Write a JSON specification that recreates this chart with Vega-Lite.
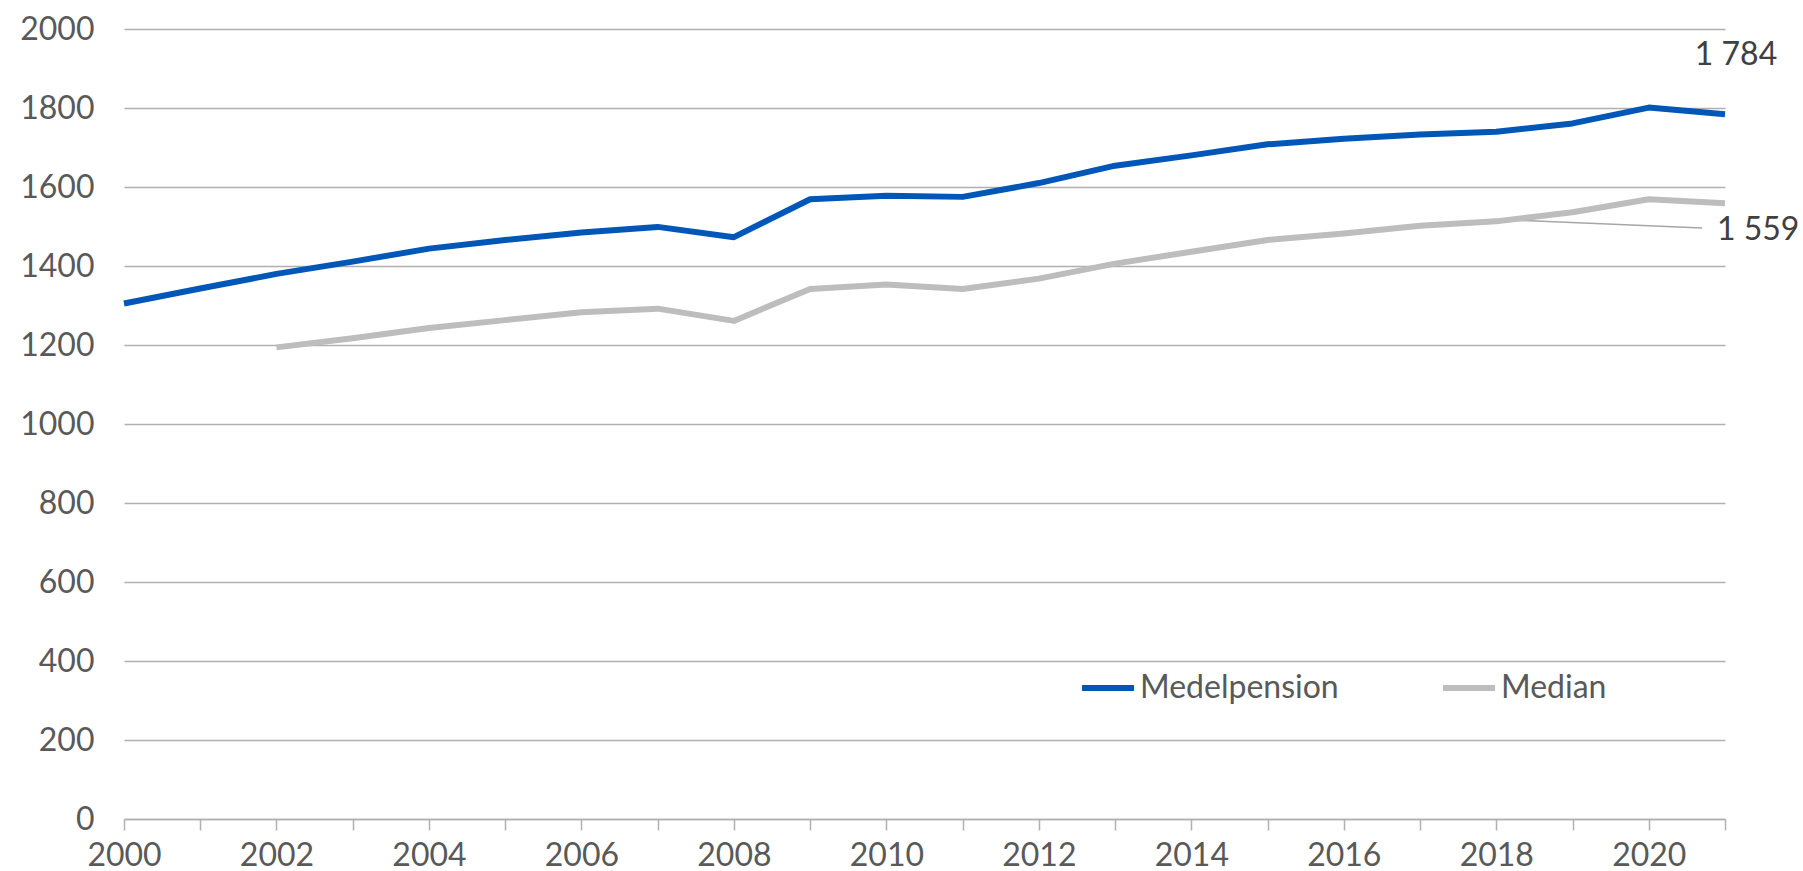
{
  "$schema": "https://vega.github.io/schema/vega-lite/v6.json",
  "width": 1601,
  "height": 790,
  "autosize": {"type": "none"},
  "padding": {"left": 124, "top": 29, "right": 78, "bottom": 52},
  "background": "white",
  "config": {
    "view": {"stroke": null},
    "font": "Lato",
    "axis": {"labelFont": "Lato", "labelFontSize": 32, "labelColor": "#595959", "titleFont": "Lato"},
    "legend": {"labelFont": "Lato"}
  },
  "datasets": {
    "series": [
      {"year": 2000, "series": "Medelpension", "value": 1305},
      {"year": 2001, "series": "Medelpension", "value": 1343},
      {"year": 2002, "series": "Medelpension", "value": 1380},
      {"year": 2003, "series": "Medelpension", "value": 1411},
      {"year": 2004, "series": "Medelpension", "value": 1444},
      {"year": 2005, "series": "Medelpension", "value": 1466},
      {"year": 2006, "series": "Medelpension", "value": 1485},
      {"year": 2007, "series": "Medelpension", "value": 1499},
      {"year": 2008, "series": "Medelpension", "value": 1473},
      {"year": 2009, "series": "Medelpension", "value": 1569},
      {"year": 2010, "series": "Medelpension", "value": 1578},
      {"year": 2011, "series": "Medelpension", "value": 1575},
      {"year": 2012, "series": "Medelpension", "value": 1610},
      {"year": 2013, "series": "Medelpension", "value": 1654},
      {"year": 2014, "series": "Medelpension", "value": 1680},
      {"year": 2015, "series": "Medelpension", "value": 1708},
      {"year": 2016, "series": "Medelpension", "value": 1722},
      {"year": 2017, "series": "Medelpension", "value": 1733},
      {"year": 2018, "series": "Medelpension", "value": 1740},
      {"year": 2019, "series": "Medelpension", "value": 1761},
      {"year": 2020, "series": "Medelpension", "value": 1801},
      {"year": 2021, "series": "Medelpension", "value": 1784},
      {"year": 2002, "series": "Median", "value": 1194},
      {"year": 2003, "series": "Median", "value": 1217},
      {"year": 2004, "series": "Median", "value": 1243},
      {"year": 2005, "series": "Median", "value": 1263},
      {"year": 2006, "series": "Median", "value": 1283},
      {"year": 2007, "series": "Median", "value": 1292},
      {"year": 2008, "series": "Median", "value": 1261},
      {"year": 2009, "series": "Median", "value": 1342},
      {"year": 2010, "series": "Median", "value": 1353},
      {"year": 2011, "series": "Median", "value": 1342},
      {"year": 2012, "series": "Median", "value": 1368},
      {"year": 2013, "series": "Median", "value": 1406},
      {"year": 2014, "series": "Median", "value": 1436},
      {"year": 2015, "series": "Median", "value": 1466},
      {"year": 2016, "series": "Median", "value": 1482},
      {"year": 2017, "series": "Median", "value": 1502},
      {"year": 2018, "series": "Median", "value": 1513},
      {"year": 2019, "series": "Median", "value": 1536},
      {"year": 2020, "series": "Median", "value": 1569},
      {"year": 2021, "series": "Median", "value": 1559}
    ],
    "labels": [
      {"year": 2021, "value": 1784, "label": "1 784", "series": "Medelpension"},
      {"year": 2021, "value": 1559, "label": "1 559", "series": "Median"}
    ],
    "leader": [
      {"year": 2018, "value": 1518},
      {"year": 2020.7, "value": 1496}
    ]
  },
  "layer": [
    {
      "data": {"name": "leader"},
      "mark": {"type": "line", "color": "#a6a6a6", "strokeWidth": 1.5},
      "encoding": {
        "x": {"field": "year", "type": "quantitative", "scale": {"domain": [2000, 2021], "nice": false, "zero": false}},
        "y": {"field": "value", "type": "quantitative", "scale": {"domain": [0, 2000], "nice": false}}
      }
    },
    {
      "data": {"name": "series"},
      "mark": {"type": "line", "strokeWidth": 6, "strokeJoin": "round", "strokeCap": "butt"},
      "encoding": {
        "x": {
          "field": "year", "type": "quantitative",
          "scale": {"domain": [2000, 2021], "nice": false, "zero": false},
          "axis": {
            "title": null,
            "values": [2000,2001,2002,2003,2004,2005,2006,2007,2008,2009,2010,2011,2012,2013,2014,2015,2016,2017,2018,2019,2020,2021],
            "labelExpr": "datum.value % 2 == 0 ? format(datum.value, 'd') : ''",
            "grid": false,
            "domain": true, "domainColor": "#b0b0b0", "domainWidth": 1.5,
            "ticks": true, "tickColor": "#b0b0b0", "tickSize": 11, "tickWidth": 1.5,
            "labelPadding": 10, "labelFlush": false, "labelOverlap": false
          }
        },
        "y": {
          "field": "value", "type": "quantitative",
          "scale": {"domain": [0, 2000], "nice": false},
          "axis": {
            "title": null,
            "values": [0,200,400,600,800,1000,1200,1400,1600,1800,2000],
            "format": "d",
            "grid": true, "gridColor": "#b0b0b0", "gridWidth": 1.5,
            "domain": false, "ticks": false,
            "labelPadding": 30
          }
        },
        "color": {
          "field": "series", "type": "nominal",
          "scale": {"domain": ["Medelpension", "Median"], "range": ["#0057B8", "#BDBDBD"]},
          "legend": {
            "title": null,
            "orient": "none",
            "legendX": 955,
            "legendY": 630,
            "direction": "horizontal",
            "symbolType": "stroke",
            "symbolSize": 2700,
            "symbolStrokeWidth": 6,
            "labelFontSize": 32,
            "labelColor": "#595959",
            "labelOffset": 3,
            "labelLimit": 400,
            "columnPadding": 92
          }
        }
      }
    },
    {
      "data": {"name": "labels"},
      "transform": [{"filter": "datum.series == 'Medelpension'"}],
      "mark": {"type": "text", "fontSize": 32, "color": "#404040", "align": "center", "baseline": "middle", "dx": 11, "dy": -59},
      "encoding": {
        "x": {"field": "year", "type": "quantitative"},
        "y": {"field": "value", "type": "quantitative"},
        "text": {"field": "label"}
      }
    },
    {
      "data": {"name": "labels"},
      "transform": [{"filter": "datum.series == 'Median'"}],
      "mark": {"type": "text", "fontSize": 32, "color": "#404040", "align": "left", "baseline": "middle", "dx": -8, "dy": 27},
      "encoding": {
        "x": {"field": "year", "type": "quantitative"},
        "y": {"field": "value", "type": "quantitative"},
        "text": {"field": "label"}
      }
    }
  ]
}
